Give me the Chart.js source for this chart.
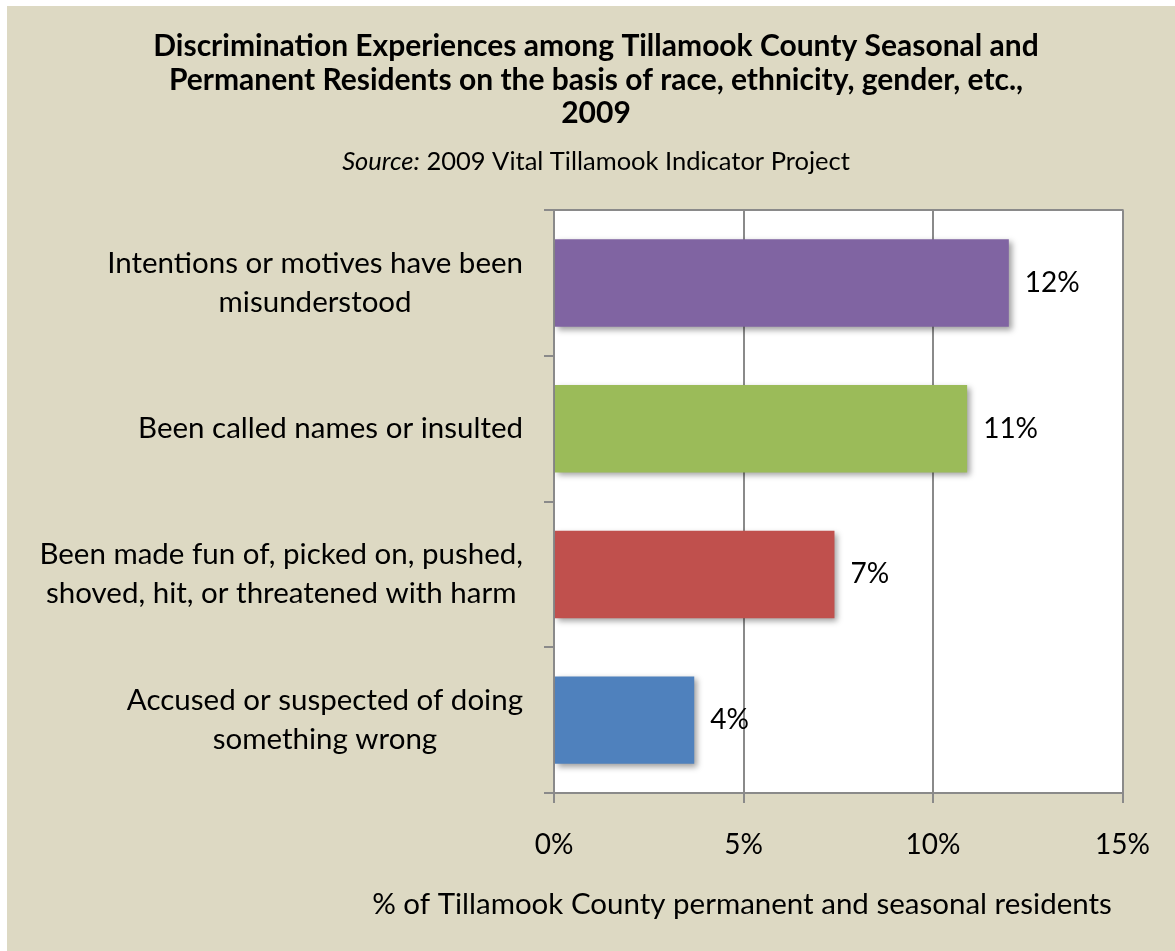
<!DOCTYPE html>
<html>
<head>
<meta charset="utf-8">
<title>Discrimination Experiences among Tillamook County Residents, 2009</title>
<script src="https://cdn.jsdelivr.net/npm/chart.js@4"></script>
<style>
  html, body { margin: 0; padding: 0; background: #ffffff; }
  #panel {
    position: absolute; left: 7px; top: 6px;
    width: 1168px; height: 945px;
    background: #ddd9c3;
  }
  #chart { display: block; }
</style>
</head>
<body>
<div id="panel"><canvas id="chart" width="1168" height="945"></canvas></div>
<script>
// ---- data ----
const categories = [
  ['Intentions or motives have been', 'misunderstood'],
  ['Been called names or insulted'],
  ['Been made fun of, picked on, pushed,', 'shoved, hit, or threatened with harm'],
  ['Accused or suspected of doing', 'something wrong']
];
const percentValues = [12.0, 10.9, 7.4, 3.7];
const barColors = ['#8064a2', '#9bbb59', '#c0504d', '#4f81bd'];
const xTickValues = [0, 5, 10, 15];
const titleLines = [
  'Discrimination Experiences among Tillamook County Seasonal and',
  'Permanent Residents on the basis of race, ethnicity, gender, etc.,',
  '2009'
];
const sourceLead = 'Source:';
const sourceRest = ' 2009 Vital Tillamook Indicator Project';
const xAxisTitle = '% of Tillamook County permanent and seasonal residents';

// ---- styling ----
const FONT = 'Lato';
const GREY = '#8a8a8a';
const LABEL_SIZE = 29.5;   // category labels and axis title
const NUMBER_SIZE = 28;    // tick labels and value labels
const LABEL_LINE = 39;
const TICK_LEN = 10;
const LABEL_GAP = 21;
const AXIS_TITLE_X = 735;
const SUB_SIZE = 25.5;
const SUB_PAD_TOP = 16;

const chartDecor = {
  id: 'chartDecor',
  beforeDraw(chart) {
    const { ctx, chartArea: a } = chart;
    ctx.save();
    ctx.fillStyle = '#ffffff';
    ctx.fillRect(a.left, a.top, a.right - a.left, a.bottom - a.top);
    ctx.restore();
  },
  beforeDatasetsDraw(chart) {
    const ctx = chart.ctx;
    ctx.save();
    ctx.shadowColor = 'rgba(0,0,0,0.38)';
    ctx.shadowBlur = 6;
    ctx.shadowOffsetX = 3;
    ctx.shadowOffsetY = 3;
  },
  afterDatasetsDraw(chart) {
    const ctx = chart.ctx;
    ctx.restore();
    // value labels at the end of each bar
    const meta = chart.getDatasetMeta(0);
    ctx.save();
    ctx.font = `${NUMBER_SIZE}px ${FONT}`;
    ctx.fillStyle = '#000';
    ctx.textAlign = 'left';
    ctx.textBaseline = 'middle';
    meta.data.forEach((bar, i) => {
      ctx.fillText(Math.round(percentValues[i]) + '%', bar.x + 16, bar.y);
    });
    ctx.restore();
  },
  afterDraw(chart) {
    const { ctx, chartArea: a } = chart;
    ctx.save();
    // top edge of the plot frame
    ctx.strokeStyle = GREY;
    ctx.lineWidth = 2;
    ctx.beginPath();
    ctx.moveTo(a.left, Math.round(a.top));
    ctx.lineTo(a.right + 1, Math.round(a.top));
    ctx.stroke();

    // category labels: each block centred on itself, right edge beside the axis
    const y = chart.scales.y;
    ctx.font = `${LABEL_SIZE}px ${FONT}`;
    ctx.fillStyle = '#000';
    ctx.textAlign = 'center';
    ctx.textBaseline = 'middle';
    categories.forEach((lines, i) => {
      const cy = y.getPixelForValue(i);
      const w = Math.max(...lines.map(l => ctx.measureText(l).width));
      const cx = y.right - TICK_LEN - LABEL_GAP - w / 2;
      lines.forEach((l, k) => {
        ctx.fillText(l, cx, cy - (lines.length - 1) * LABEL_LINE / 2 + k * LABEL_LINE);
      });
    });

    // x axis title
    const x = chart.scales.x;
    const tLine = LABEL_SIZE * 1.2;
    ctx.fillText(xAxisTitle, AXIS_TITLE_X, x.bottom - tLine / 2);

    // source line: italic lead-in followed by plain text
    const sub = chart.boxes.find(b => b.options && b.options.text === sourceLead + sourceRest);
    if (sub) {
      const sy = sub.top + SUB_PAD_TOP + SUB_SIZE * 1.2 / 2;
      const scx = (sub.left + sub.right) / 2;
      ctx.textAlign = 'left';
      ctx.font = `italic ${SUB_SIZE}px ${FONT}`;
      const w1 = ctx.measureText(sourceLead).width;
      ctx.font = `${SUB_SIZE}px ${FONT}`;
      const w2 = ctx.measureText(sourceRest).width;
      const sx = scx - (w1 + w2) / 2;
      ctx.font = `italic ${SUB_SIZE}px ${FONT}`;
      ctx.fillText(sourceLead, sx, sy);
      ctx.font = `${SUB_SIZE}px ${FONT}`;
      ctx.fillText(sourceRest, sx + w1, sy);
    }
    ctx.restore();
  }
};

new Chart(document.getElementById('chart'), {
  type: 'bar',
  data: {
    labels: categories,
    datasets: [{
      data: percentValues,
      backgroundColor: barColors,
      borderWidth: 0,
      barPercentage: 0.6,
      categoryPercentage: 1
    }]
  },
  options: {
    indexAxis: 'y',
    responsive: false,
    animation: false,
    devicePixelRatio: 1,
    layout: { padding: { left: 59, right: 49, top: 0, bottom: 29 } },
    plugins: {
      legend: { display: false },
      tooltip: { enabled: false },
      title: {
        display: true,
        text: titleLines,
        color: '#000',
        font: { family: FONT, size: 30, weight: 'bold', lineHeight: 1.117 },
        padding: { top: 24, bottom: 0 }
      },
      subtitle: {
        display: true,
        text: sourceLead + sourceRest,
        color: 'rgba(0,0,0,0)',
        font: { family: FONT, size: SUB_SIZE, lineHeight: 1.2 },
        padding: { top: SUB_PAD_TOP, bottom: 33 }
      }
    },
    scales: {
      x: {
        type: 'linear',
        min: 0,
        max: 15,
        afterBuildTicks: s => { s.ticks = xTickValues.map(v => ({ value: v })); },
        ticks: {
          callback: v => v + '%',
          color: '#000',
          font: { family: FONT, size: NUMBER_SIZE, lineHeight: 1.2 },
          padding: 25,
          maxRotation: 0,
          autoSkip: false
        },
        grid: { color: GREY, lineWidth: 2, drawTicks: true, tickLength: TICK_LEN, tickColor: GREY },
        border: { display: true, color: GREY, width: 2 },
        title: {
          display: true,
          text: xAxisTitle,
          color: 'rgba(0,0,0,0)',
          font: { family: FONT, size: LABEL_SIZE, lineHeight: 1.2 },
          padding: { top: 0, bottom: 0 }
        }
      },
      y: {
        type: 'category',
        offset: true,
        ticks: { display: false },
        grid: { offset: true, drawOnChartArea: false, drawTicks: true, tickLength: TICK_LEN, color: GREY, lineWidth: 2 },
        border: { display: true, color: GREY, width: 2 },
        afterFit: s => { s.width = 488; }
      }
    }
  },
  plugins: [chartDecor]
});
</script>
</body>
</html>
